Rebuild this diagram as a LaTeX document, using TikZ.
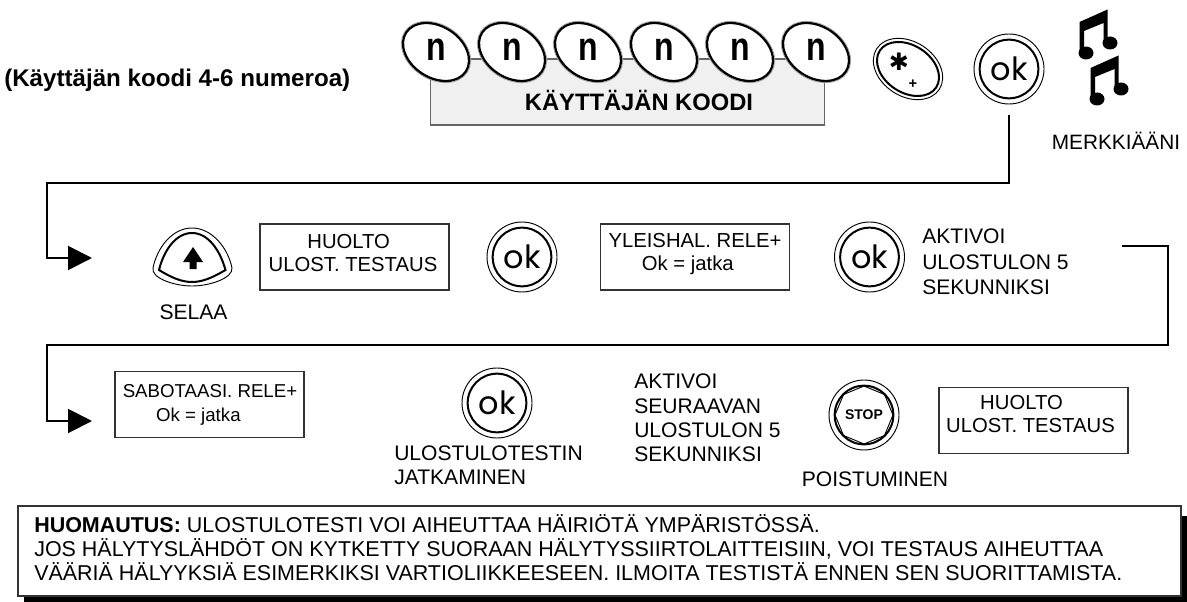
\documentclass[tikz,border=0pt]{standalone}
\usepackage{fontspec}
\setmainfont{Liberation Sans}
\newfontfamily\okfont{Poppins}
\newfontfamily\symfont{DejaVu Sans}
\usetikzlibrary{arrows.meta,shapes.geometric}
\tikzset{
	txt/.style = {inner sep=0pt, align=left, font=\fontsize{15.8pt}{19pt}\selectfont},
	lcdbox/.style = {draw=black!80, line width=0.8pt, minimum width=141.75pt, minimum height=49.5pt, inner sep=0pt},
	lcdtxt/.style = {inner sep=0pt, align=left, font=\fontsize{15.2pt}{17.25pt}\selectfont},
	flow/.style = {line width=1.5pt, line join=miter},
	flowarrow/.style = {flow, -{Triangle[length=18pt,width=18pt]}},
	oval/.style = {ellipse, rotate=-33, minimum width=53.5pt, minimum height=38.5pt, inner sep=0pt, fill=white},
	okring/.style = {circle, draw, line width=0.7pt, minimum size=52.5pt, inner sep=0pt, fill=white},
	okkey/.style = {circle, draw, line width=1.5pt, minimum size=44pt, inner sep=0pt, font=\okfont\fontsize{24pt}{24pt}\selectfont},
}
\begin{document}
\begin{tikzpicture}[x=0.75pt, y=-0.75pt]
	\useasboundingbox (0,0) rectangle (1187,602);

	\node[txt, anchor=west, font=\fontsize{18.1pt}{20pt}\selectfont\bfseries] (title) at (4,80) {(Käyttäjän koodi 4-6 numeroa)};

	\node[draw=black!60, fill=black!6, line width=0.8pt, minimum width=296pt, minimum height=49.5pt] (codebox) at (627.5,92) {};
	\node[txt, font=\fontsize{17.8pt}{20pt}\selectfont\bfseries] (codetxt) at (639,100) {KÄYTTÄJÄN KOODI};
	\foreach \i/\x in {1/436, 2/512, 3/588, 4/664, 5/740, 6/816}{
		\node[oval, draw=black!35, line width=0.6pt, minimum width=56pt, minimum height=41pt] (nring\i) at (\x,52) {};
		\node[oval, draw, line width=1.7pt] (nkey\i) at (\x,52) {};
		\node[txt, font=\fontsize{24pt}{24pt}\selectfont\bfseries] (ntxt\i) at (\x,50) {\scalebox{1.0}[1.25]{n}};
	}

	\node[oval, draw, line width=0.7pt, minimum width=56pt, minimum height=41pt] (starring) at (908,69) {};
	\node[oval, draw, line width=1.5pt, minimum width=50.5pt, minimum height=35.5pt] (starkey) at (908,69) {};
	\node[txt, font=\symfont\fontsize{18pt}{18pt}\selectfont] (startxt) at (899,62) {✱};
	\node[txt, font=\fontsize{11pt}{11pt}\selectfont\bfseries] (starplus) at (913,84) {+};

	% ok keys
	\foreach \name/\x/\y in {ok1/1009/69, ok2/522/257, ok3/869.5/257, ok4/497/403}{
		\node[okring] (\name ring) at (\x,\y) {};
		\node[okkey] (\name) at (\x,\y) {ok};
	}

	% beeps
	\foreach \dx/\dy in {0/0, 11/46}{
		\begin{scope}[shift={(\dx,\dy)}]
			\fill (1079.5,22) -- (1107.5,9.5) -- (1107.5,43) -- (1103.5,43) -- (1103.5,23) -- (1084,31) -- (1084,53) -- (1079.5,53) -- cycle;
			\fill (1086,53) ellipse (7.5 and 6.5);
			\fill (1110,43) ellipse (7.5 and 6.5);
		\end{scope}
	}
	\node[txt, font=\fontsize{15.6pt}{19pt}\selectfont] (beep) at (1116,141) {MERKKIÄÄNI};

	\coordinate (p1) at (1009,115);
	\coordinate (p2) at (1009,183);
	\coordinate (p3) at (47,183);
	\coordinate (p4) at (47,258);
	\coordinate (a1) at (92,258);
	\draw[flowarrow] (p1) -- (p2) -- (p3) -- (p4) -- (a1);

	% selaa key
	\draw[line width=0.7pt] (153,268) .. controls (157,248) and (172,228) .. (192,228) .. controls (212,228) and (228,248) .. (232,268) .. controls (233,278) and (210,286) .. (192,286) .. controls (174,286) and (151,278) .. (153,268) -- cycle;
	\draw[line width=1.5pt] (159,270) .. controls (164,250) and (176,233) .. (192,233) .. controls (208,233) and (220,250) .. (225.5,270) .. controls (212,278) and (202,282) .. (192,282) .. controls (182,282) and (172,278) .. (159,270) -- cycle;
	\fill (193,247) -- (203,262) -- (196.5,262) -- (196.5,269) -- (189.5,269) -- (189.5,262) -- (183,262) -- cycle;
	\node[txt] (selaa) at (193.5,312) {SELAA};

	\node[lcdbox] (lcd1) at (354.5,257) {};
	\node[lcdtxt] (lcd1txt) at (353,253.5) {\hspace*{29pt}HUOLTO\\ULOST. TESTAUS};
	\node[lcdbox] (lcd2) at (695,257) {};
	\node[lcdtxt] (lcd2txt) at (695,254.5) {YLEISHAL. RELE+\\\hspace*{25pt}Ok = jatka};
	\node[txt, anchor=north west] (act1) at (922,228.7) {AKTIVOI\\ULOSTULON 5\\SEKUNNIKSI};

	\coordinate (q1) at (1122,246);
	\coordinate (q2) at (1167.5,246);
	\coordinate (q3) at (1167.5,345);
	\coordinate (q4) at (47,345);
	\coordinate (q5) at (47,421);
	\coordinate (a2) at (92,421);
	\draw[flowarrow] (q1) -- (q2) -- (q3) -- (q4) -- (q5) -- (a2);

	\node[lcdbox] (lcd3) at (209.5,404.5) {};
	\node[lcdtxt, font=\fontsize{14pt}{18pt}\selectfont] (lcd3txt) at (210,405) {SABOTAASI. RELE+\\\hspace*{25pt}Ok = jatka};
	\node[txt, anchor=north west, font=\fontsize{15.8pt}{18pt}\selectfont] (cont) at (394,445.7) {ULOSTULOTESTIN\\JATKAMINEN};
	\node[txt, anchor=north west, font=\fontsize{15.8pt}{18.3pt}\selectfont] (act2) at (634,373.7) {AKTIVOI\\SEURAAVAN\\ULOSTULON 5\\SEKUNNIKSI};

	% stop key
	\node[okring] (stopring) at (864,415) {};
	\node[okkey] (stopkey) at (864,415) {};
	\node[regular polygon, regular polygon sides=8, shape border rotate=22.5, draw, line width=0.7pt, minimum size=35pt, inner sep=0pt, font=\fontsize{10.5pt}{11pt}\selectfont\bfseries] (stopsign) at (864,415) {STOP};
	\node[txt] (exit) at (875,479) {POISTUMINEN};
	\node[lcdbox] (lcd4) at (1033.5,420.5) {};
	\node[lcdtxt] (lcd4txt) at (1030.5,414.5) {\hspace*{25.5pt}HUOLTO\\ULOST. TESTAUS};

	% note
	\fill (24,516) rectangle (1187,602);
	\node[draw=black!80, fill=white, line width=0.8pt, minimum width=872.25pt, minimum height=67.5pt, inner sep=0pt] (notebox) at (599.5,551) {};
	\node[txt, anchor=north west, font=\fontsize{16.1pt}{18pt}\selectfont] (notetxt) at (34,514) {\textbf{HUOMAUTUS:} ULOSTULOTESTI VOI AIHEUTTAA HÄIRIÖTÄ YMPÄRISTÖSSÄ.\\JOS HÄLYTYSLÄHDÖT ON KYTKETTY SUORAAN HÄLYTYSSIIRTOLAITTEISIIN, VOI TESTAUS AIHEUTTAA\\VÄÄRIÄ HÄLYYKSIÄ ESIMERKIKSI VARTIOLIIKKEESEEN. ILMOITA TESTISTÄ ENNEN SEN SUORITTAMISTA.};
\end{tikzpicture}
\end{document}
